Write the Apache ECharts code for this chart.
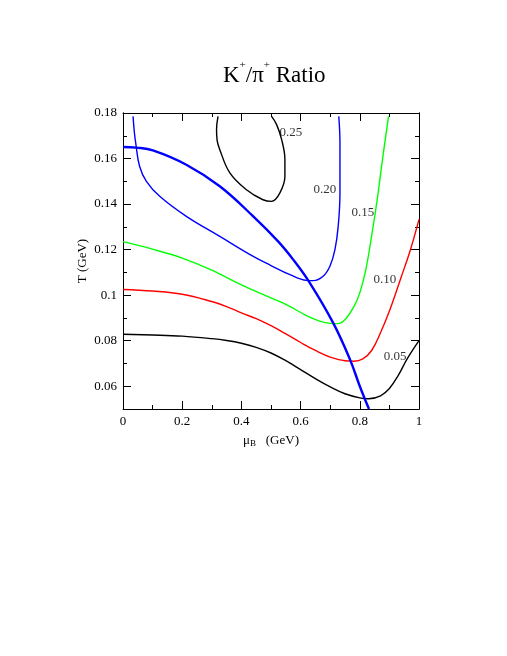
<!DOCTYPE html>
<html>
<head>
<meta charset="utf-8">
<script src="https://cdn.jsdelivr.net/npm/echarts@6/dist/echarts.min.js"></script>
<style>
  html, body { margin: 0; padding: 0; background: #fff; }
  #chart { width: 507px; height: 656px; }
</style>
</head>
<body>
<div id="chart"></div>
<script>
// contour lines of the K+/pi+ ratio, [muB, T]
var ratio005 = [[0,0.0828],[0.1,0.0825],[0.2,0.0820],[0.3,0.0809],[0.35,0.0801],[0.4,0.0789],[0.45,0.0771],[0.5,0.0746],[0.55,0.0712],[0.6,0.0673],[0.65,0.0633],[0.7,0.0597],[0.75,0.0567],[0.8,0.0549],[0.83,0.0545],[0.87,0.0558],[0.9,0.0590],[0.93,0.0648],[0.96,0.0720],[1,0.0800]];
var ratio010 = [[0,0.1025],[0.1,0.1018],[0.2,0.1004],[0.3,0.0972],[0.35,0.0950],[0.4,0.0922],[0.45,0.0897],[0.5,0.0866],[0.55,0.0830],[0.6,0.0792],[0.65,0.0757],[0.7,0.0728],[0.75,0.0712],[0.78,0.0710],[0.81,0.0720],[0.84,0.0757],[0.87,0.0835],[0.9,0.0930],[0.94,0.1080],[0.97,0.1195],[1,0.1333]];
var ratio015 = [[0,0.1235],[0.1,0.1202],[0.2,0.1163],[0.3,0.1110],[0.4,0.1045],[0.5,0.0988],[0.56,0.0953],[0.62,0.0910],[0.66,0.0888],[0.7,0.0876],[0.725,0.0875],[0.75,0.0893],[0.78,0.0950],[0.8,0.1010],[0.82,0.1110],[0.84,0.1260],[0.86,0.1430],[0.875,0.1580],[0.897,0.1785]];
var ratio020 = [[0.034,0.1785],[0.038,0.1720],[0.043,0.1668],[0.056,0.1566],[0.079,0.1500],[0.124,0.1434],[0.214,0.1346],[0.327,0.1258],[0.44,0.1170],[0.5,0.1130],[0.564,0.1090],[0.62,0.1065],[0.643,0.1064],[0.676,0.1083],[0.699,0.1127],[0.716,0.1200],[0.727,0.1302],[0.733,0.1449],[0.733,0.1668],[0.729,0.1785]];
var ratio025 = [[0.321,0.1785],[0.316,0.1727],[0.318,0.1680],[0.327,0.1639],[0.361,0.1537],[0.417,0.1463],[0.473,0.1419],[0.502,0.1412],[0.53,0.1449],[0.547,0.1522],[0.547,0.1595],[0.536,0.1683],[0.519,0.1749],[0.502,0.1785]];
// freeze-out curve
var freezeOut = [[0,0.1651],[0.045,0.1648],[0.101,0.1636],[0.214,0.1573],[0.327,0.1478],[0.44,0.1346],[0.524,0.1236],[0.575,0.1156],[0.631,0.1054],[0.71,0.0878],[0.767,0.0717],[0.80,0.0600],[0.831,0.0500]];
// contour labels [muB, T, text]
var contourLabels = [[0.567,0.1714,'0.25'],[0.682,0.1463,'0.20'],[0.81,0.1361,'0.15'],[0.885,0.1068,'0.10'],[0.919,0.0730,'0.05']];
var yMajor = [0.06,0.08,0.1,0.12,0.14,0.16,0.18];
var yMinor = [0.05,0.07,0.09,0.11,0.13,0.15,0.17];

var serif = 'Liberation Serif';
var black = '#000';

var contour = function(data, color, width){
	return {
		type:'line', data:data, xAxisIndex:0, yAxisIndex:0,
		showSymbol:false, smooth:0.4,
		lineStyle:{color:color, width:width},
		silent:true
	};
};

var xAxisOf = function(pos, labels){
	return {
		type:'value', position:pos, min:0, max:1, interval:0.2,
		axisLine:{show:true, lineStyle:{color:black, width:1}},
		axisTick:{show:true, inside:true, length:8, lineStyle:{color:black}},
		minorTick:{show:true, splitNumber:2, length:4, lineStyle:{color:black}},
		splitLine:{show:false},
		axisLabel:{show:labels, color:black, fontFamily:serif, fontSize:13, margin:6},
		name: labels ? '{mu|μ}{sub|B}   (GeV)' : '',
		nameLocation:'middle', nameGap:24, nameMoveOverlap:false,
		nameTextStyle:{
			color:black, fontFamily:serif, fontSize:13,
			rich:{
				mu:{fontFamily:serif, fontSize:13, color:black},
				sub:{fontFamily:serif, fontSize:9, color:black, verticalAlign:'bottom', padding:[6,0,0,0]}
			}
		}
	};
};

var yAxisOf = function(pos, ticks, len, labels){
	return {
		type:'value', position:pos, min:0.05, max:0.18, interval:0.01,
		axisLine:{show:true, lineStyle:{color:black, width:1}},
		axisTick:{show:true, inside:true, length:len, customValues:ticks, lineStyle:{color:black}},
		splitLine:{show:false},
		axisLabel:{show:labels, customValues:ticks, color:black, fontFamily:serif, fontSize:13, margin:6},
		name: labels ? 'T (GeV)' : '',
		nameLocation:'middle', nameGap:34, nameRotate:90, nameMoveOverlap:false,
		nameTextStyle:{color:black, fontFamily:serif, fontSize:13}
	};
};

var myChart = echarts.init(document.getElementById('chart'));
var option = {
	animation:false,
	backgroundColor:'#fff',
	title:{
		text:'{m|K}{sup|+}{m|/π}{sup|+}{m| Ratio}',
		left:218, top:55,
		textStyle:{
			color:black, fontFamily:serif, fontSize:23, fontWeight:'normal',
			rich:{
				m:{fontFamily:serif, fontSize:23, color:black, verticalAlign:'bottom'},
				sup:{fontFamily:serif, fontSize:11, color:black, verticalAlign:'bottom', padding:[0,0,16,0]}
			}
		}
	},
	grid:{left:123, top:113, width:296, height:296, containLabel:false},
	xAxis:[xAxisOf('bottom', true), xAxisOf('top', false)],
	yAxis:[
		yAxisOf('left', yMajor, 8, true),
		yAxisOf('left', yMinor, 4, false),
		yAxisOf('right', yMajor, 8, false),
		yAxisOf('right', yMinor, 4, false)
	],
	series:[
		contour(ratio005, '#000000', 1.4),
		contour(ratio010, '#ff0000', 1.4),
		contour(ratio015, '#00ff00', 1.4),
		contour(ratio020, '#0000ff', 1.4),
		contour(ratio025, '#000000', 1.4),
		contour(freezeOut, '#0000ff', 2.4),
		{
			type:'scatter', data:contourLabels, symbolSize:0, silent:true,
			label:{
				show:true, position:'inside', color:black, fontFamily:serif, fontSize:13,
				formatter:function(p){ return p.data[2]; }
			}
		}
	]
};
myChart.setOption(option);
</script>
</body>
</html>
